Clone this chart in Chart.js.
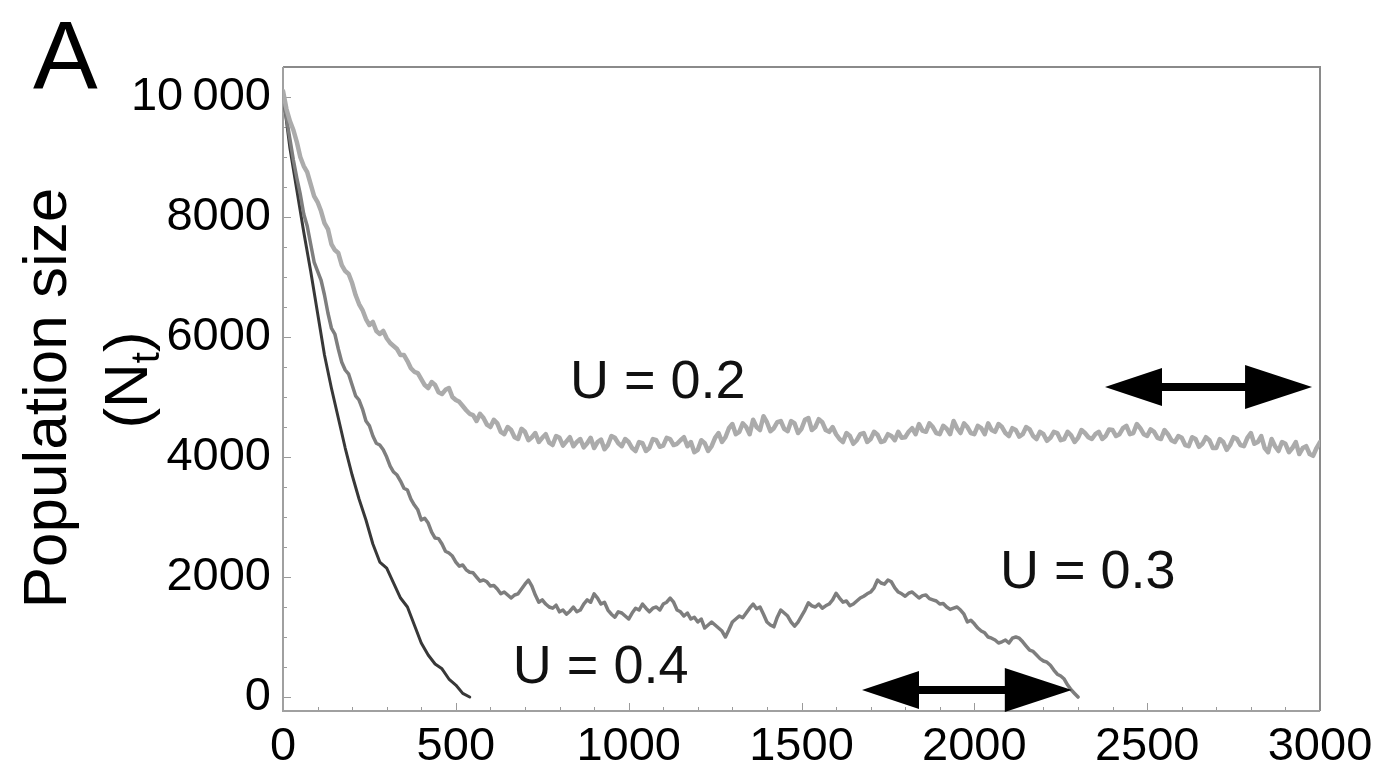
<!DOCTYPE html>
<html>
<head>
<meta charset="utf-8">
<script src="https://cdn.jsdelivr.net/npm/chart.js@4.4.1/dist/chart.umd.min.js"></script>
<style>
  html, body { margin: 0; padding: 0; background: #ffffff; }
  #wrap { width: 1381px; height: 774px; position: relative; }
</style>
</head>
<body>
<div id="wrap"><canvas id="chart" width="1381" height="774"></canvas></div>
<script>
// ---- data ----
const seriesLabels = ['U = 0.2', 'U = 0.3', 'U = 0.4'];
const u02Step = 10;   // generations between samples, U = 0.2
const u03Step = 10;   // generations between samples, U = 0.3
const u04Step = 20;   // generations between samples, U = 0.4

const u02Values = [
  10100, 9800, 9600, 9450, 9250, 9000, 8850, 8750, 8550, 8350,
  8250, 8100, 7900, 7800, 7550, 7450, 7400, 7200, 7100, 7050,
  6900, 6700, 6550, 6450, 6300, 6200, 6250, 6100, 6050, 6100,
  5980, 5900, 5850, 5800, 5700, 5700, 5600, 5480, 5420, 5400,
  5300, 5200, 5150, 5250, 5200, 5080, 5050, 5120, 5150, 5000,
  4950, 4920, 4850, 4780, 4720, 4700, 4600, 4720, 4650, 4540,
  4500, 4620, 4560, 4420, 4380, 4500, 4450, 4330, 4300, 4470,
  4420, 4280, 4330, 4400, 4250, 4320, 4380, 4240, 4200, 4350,
  4320, 4190, 4260, 4330, 4180, 4250, 4300, 4160, 4230, 4320,
  4150, 4250, 4290, 4130, 4200, 4350, 4320, 4230, 4180, 4300,
  4250, 4150, 4100, 4250, 4230, 4100, 4150, 4300, 4280, 4170,
  4190, 4320, 4300, 4200, 4220, 4280, 4330, 4180, 4250, 4080,
  4120, 4280, 4230, 4100, 4180, 4320, 4400, 4250, 4330, 4480,
  4550, 4380, 4420, 4560, 4500, 4380, 4620, 4500, 4450, 4680,
  4580, 4430, 4480, 4580, 4600, 4470, 4430, 4600, 4560, 4400,
  4470, 4620, 4650, 4450, 4500, 4630, 4580, 4450, 4420, 4500,
  4380, 4300, 4250, 4400, 4350, 4220, 4280, 4380, 4400, 4250,
  4300, 4420, 4370, 4250, 4270, 4380, 4350, 4280, 4420, 4320,
  4330, 4420, 4480, 4380, 4550, 4440, 4420, 4560, 4500, 4400,
  4380, 4520, 4470, 4380, 4600, 4480, 4400, 4560, 4500, 4400,
  4380, 4520, 4480, 4380, 4560, 4450, 4420, 4550, 4500, 4400,
  4350, 4480, 4450, 4340, 4380, 4500, 4460, 4350, 4300, 4420,
  4380, 4270, 4320, 4420, 4400, 4280, 4300, 4420, 4360, 4250,
  4320, 4450, 4400, 4330, 4300, 4380, 4420, 4300, 4350, 4460,
  4450, 4350, 4380, 4480, 4520, 4380, 4400, 4550, 4480, 4380,
  4350, 4460, 4420, 4320, 4300, 4450, 4380, 4280, 4250, 4350,
  4320, 4200, 4180, 4330, 4300, 4170, 4220, 4330, 4280, 4150,
  4150, 4300, 4250, 4120, 4200, 4330, 4300, 4200, 4180, 4320,
  4400, 4220, 4250, 4350, 4150, 4080, 4300, 4180, 4100, 4250,
  4220, 4080, 4150, 4250, 4050, 4150, 4180, 4050, 4020, 4150,
  4250
];

const u03Values = [
  10050, 9650, 9300, 8950, 8650, 8380, 8050, 7850, 7550, 7250,
  7100, 6950, 6700, 6400, 6150, 6050, 5800, 5580, 5450, 5380,
  5200, 5020, 4950, 4800, 4600, 4520, 4350, 4230, 4200, 4120,
  4000, 3850, 3750, 3700, 3600, 3480, 3450, 3300, 3200, 3120,
  2950, 2980, 2900, 2750, 2650, 2640, 2550, 2430, 2400, 2350,
  2250, 2180, 2200, 2120, 2080, 2070, 2000, 1930, 1950, 1920,
  1850, 1860, 1800, 1720, 1750, 1700, 1650, 1700, 1720, 1800,
  1880, 1950, 1850, 1700, 1580, 1620, 1550, 1500, 1480, 1530,
  1420, 1450, 1380, 1430, 1500, 1420, 1450, 1550, 1620, 1580,
  1720, 1650, 1550, 1580, 1450, 1380, 1330, 1420, 1400, 1350,
  1300, 1400, 1480, 1450, 1550, 1480, 1420, 1480, 1500, 1450,
  1550, 1580, 1650, 1580, 1450, 1420, 1350, 1400, 1300, 1330,
  1250, 1300, 1150, 1200, 1250, 1200, 1150, 1100, 1000, 1120,
  1250, 1300, 1350, 1320, 1400, 1480, 1550, 1470, 1500, 1380,
  1250, 1200, 1170, 1330, 1450, 1400, 1350, 1250, 1180, 1250,
  1350, 1450, 1570, 1520, 1500, 1550, 1480, 1520, 1550, 1620,
  1730, 1650, 1580, 1600, 1520, 1550, 1600, 1650, 1680, 1720,
  1750, 1820, 1950, 1900, 1880, 1950, 1920, 1820, 1750, 1720,
  1680, 1730, 1750, 1700, 1650, 1690, 1700, 1640, 1620, 1600,
  1550, 1560, 1500, 1460, 1480, 1500, 1450, 1380, 1250, 1280,
  1220, 1150, 1100, 1070, 1000, 980, 950, 900, 920, 950,
  900, 980, 1000, 980, 920, 850, 780, 760, 700, 640,
  600, 580, 530, 450, 380, 350, 300, 200, 120, 60,
  0
];

const u04Values = [
  10050, 9150, 8450, 7750, 7100, 6400, 5700, 5150, 4650, 4150,
  3700, 3300, 2950, 2550, 2250, 2150, 1900, 1650, 1500, 1200,
  900, 700, 550, 470, 300, 200, 60, 0
];

const xTickValues = [0, 500, 1000, 1500, 2000, 2500, 3000];
const xTickLabels = ['0', '500', '1000', '1500', '2000', '2500', '3000'];
const yTickValues = [0, 2000, 4000, 6000, 8000, 10000];
const yTickLabels = ['0', '2000', '4000', '6000', '8000', '10\u2009000'];

// ---- annotation config (positions in data units) ----
const curveLabels = [
  { text: seriesLabels[0], x: 830, y: 5230 },
  { text: seriesLabels[1], x: 2074, y: 2070 },
  { text: seriesLabels[2], x: 665, y: 480 }
];
const arrows = [
  { x1: 2378, x2: 2977, y: 5167 },
  { x1: 1675, x2: 2282, y: 117 }
];

const FONT = '"Liberation Sans", Arial, Helvetica, sans-serif';

function toPoints(values, step) {
  return values.map((v, i) => ({ x: i * step, y: v }));
}

const decorPlugin = {
  id: 'decor',
  beforeDatasetsDraw(chart) {
    const { ctx, chartArea: a, scales } = chart;
    ctx.save();
    ctx.strokeStyle = '#9a9a9a';
    ctx.lineWidth = 1;
    for (let v = 0; v <= 3000; v += 100) {
      const px = Math.round(scales.x.getPixelForValue(v)) + 0.5;
      const len = (v % 500 === 0) ? 8 : 4;
      ctx.beginPath(); ctx.moveTo(px, a.bottom); ctx.lineTo(px, a.bottom - len); ctx.stroke();
    }
    for (let v = 0; v <= 10000; v += 500) {
      const py = Math.round(scales.y.getPixelForValue(v)) + 0.5;
      const len = (v % 2000 === 0) ? 8 : 4;
      ctx.beginPath(); ctx.moveTo(a.left, py); ctx.lineTo(a.left + len, py); ctx.stroke();
    }
    ctx.strokeStyle = '#8a8a8a';
    ctx.lineWidth = 2;
    ctx.beginPath();
    ctx.moveTo(a.left, a.top); ctx.lineTo(a.right, a.top); ctx.lineTo(a.right, a.bottom);
    ctx.stroke();
    ctx.strokeStyle = '#a0a0a0';
    ctx.beginPath();
    ctx.moveTo(a.left, a.top); ctx.lineTo(a.left, a.bottom); ctx.lineTo(a.right, a.bottom);
    ctx.stroke();
    ctx.restore();
  },
  afterDatasetsDraw(chart) {
    const { ctx, scales } = chart;
    ctx.save();
    ctx.fillStyle = '#000';
    ctx.font = '97px ' + FONT;
    ctx.textAlign = 'left';
    ctx.textBaseline = 'alphabetic';
    ctx.fillText('A', 33, 88);

    ctx.save();
    ctx.translate(66, 398);
    ctx.rotate(-Math.PI / 2);
    ctx.font = '62px ' + FONT;
    ctx.textAlign = 'center';
    ctx.fillText('Population size', 0, 0);
    ctx.restore();

    ctx.save();
    ctx.translate(147, 380);
    ctx.rotate(-Math.PI / 2);
    const big = '62px ' + FONT, small = '40px ' + FONT;
    ctx.font = big; const w1 = ctx.measureText('(N').width; const w3 = ctx.measureText(')').width;
    ctx.font = small; const w2 = ctx.measureText('t').width;
    let sx = -(w1 + w2 + w3) / 2;
    ctx.textAlign = 'left';
    ctx.font = big; ctx.fillText('(N', sx, 0); sx += w1;
    ctx.font = small; ctx.fillText('t', sx, 12); sx += w2;
    ctx.font = big; ctx.fillText(')', sx, 0);
    ctx.restore();

    ctx.font = '54px ' + FONT;
    ctx.textAlign = 'left';
    ctx.textBaseline = 'middle';
    ctx.fillStyle = '#111';
    curveLabels.forEach(l => {
      ctx.fillText(l.text, scales.x.getPixelForValue(l.x), scales.y.getPixelForValue(l.y));
    });

    ctx.fillStyle = '#000';
    ctx.strokeStyle = '#000';
    arrows.forEach(ar => {
      const x1 = scales.x.getPixelForValue(ar.x1);
      const x2 = scales.x.getPixelForValue(ar.x2);
      const y = scales.y.getPixelForValue(ar.y);
      const hlL = 57, hwL = 19, hlR = 67, hwR = 22;
      ctx.lineWidth = 8;
      ctx.beginPath(); ctx.moveTo(x1 + hlL - 2, y); ctx.lineTo(x2 - hlR + 2, y); ctx.stroke();
      ctx.beginPath(); ctx.moveTo(x1, y); ctx.lineTo(x1 + hlL, y - hwL); ctx.lineTo(x1 + hlL, y + hwL); ctx.closePath(); ctx.fill();
      ctx.beginPath(); ctx.moveTo(x2, y); ctx.lineTo(x2 - hlR, y - hwR); ctx.lineTo(x2 - hlR, y + hwR); ctx.closePath(); ctx.fill();
    });
    ctx.restore();
  }
};

new Chart(document.getElementById('chart'), {
  type: 'line',
  data: {
    datasets: [
      { label: seriesLabels[0], data: toPoints(u02Values, u02Step), borderColor: '#ababab', borderWidth: 4.5 },
      { label: seriesLabels[1], data: toPoints(u03Values, u03Step), borderColor: '#7e7e7e', borderWidth: 3.5 },
      { label: seriesLabels[2], data: toPoints(u04Values, u04Step), borderColor: '#383838', borderWidth: 3 }
    ]
  },
  options: {
    responsive: false,
    animation: false,
    events: [],
    elements: { point: { radius: 0 }, line: { tension: 0, borderJoinStyle: 'round', borderCapStyle: 'round' } },
    layout: { padding: { top: 67, right: 61, left: 0, bottom: 0 } },
    plugins: { legend: { display: false }, tooltip: { enabled: false }, title: { display: false } },
    scales: {
      x: {
        type: 'linear', min: 0, max: 3000,
        grid: { display: false, drawTicks: false },
        border: { display: false },
        afterBuildTicks: s => { s.ticks = xTickValues.map(v => ({ value: v })); },
        afterFit: s => { s.height = 63; },
        ticks: {
          padding: 8,
          color: '#000',
          font: { family: FONT, size: 47 },
          maxRotation: 0,
          autoSkip: false,
          callback: (v) => { const i = xTickValues.indexOf(v); return i >= 0 ? xTickLabels[i] : ''; }
        }
      },
      y: {
        type: 'linear', min: -233, max: 10500,
        grid: { display: false, drawTicks: false },
        border: { display: false },
        afterBuildTicks: s => { s.ticks = yTickValues.map(v => ({ value: v })); },
        afterFit: s => { s.width = 283; },
        ticks: {
          padding: 12,
          color: '#000',
          font: { family: FONT, size: 47 },
          autoSkip: false,
          callback: (v) => { const i = yTickValues.indexOf(v); return i >= 0 ? yTickLabels[i] : ''; }
        }
      }
    }
  },
  plugins: [decorPlugin]
});
</script>
</body>
</html>
